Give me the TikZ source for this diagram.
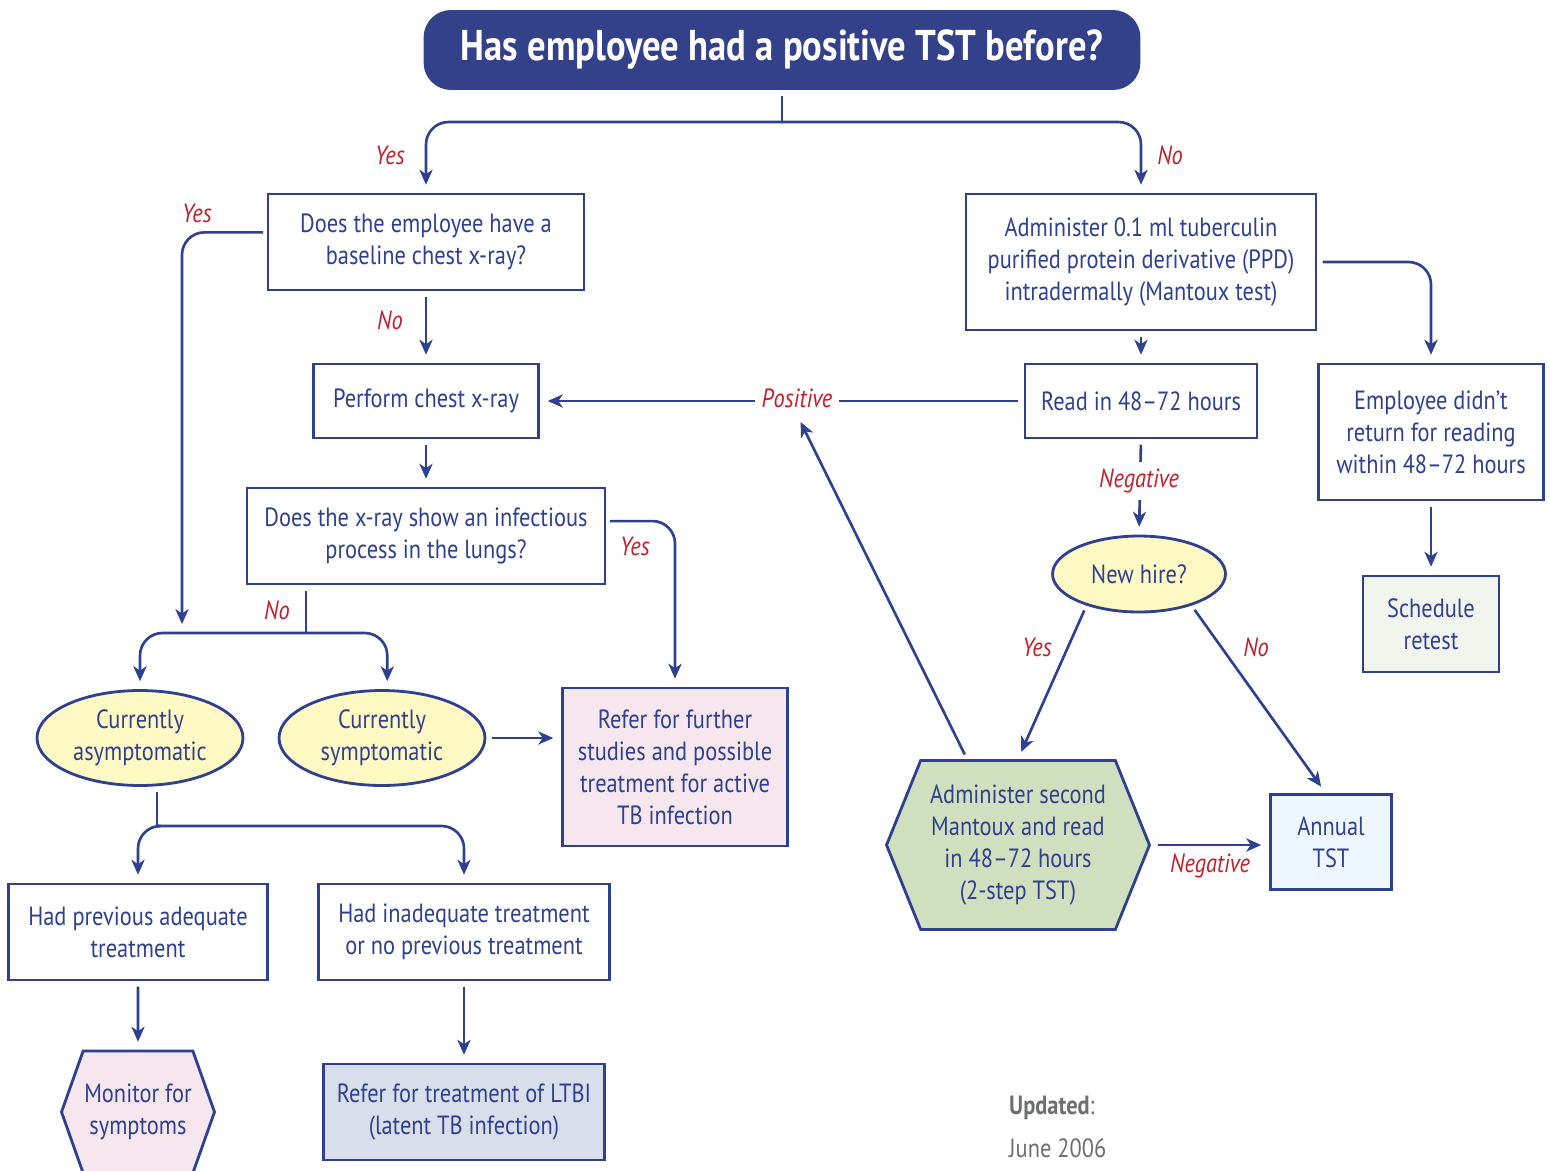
\documentclass[tikz,border=0pt]{standalone}
\usepackage{fontspec}
\setmainfont{PT Sans}[FakeStretch=0.85]
\usepackage{tikz}
\usetikzlibrary{arrows.meta}
\usetikzlibrary{shapes.geometric,shapes.symbols}

\definecolor{tbblue}{RGB}{46,64,143}
\definecolor{titleblue}{RGB}{51,65,139}
\definecolor{tbred}{RGB}{193,32,45}
\definecolor{hireyellow}{RGB}{255,249,196}
\definecolor{referpink}{RGB}{246,230,238}
\definecolor{sage}{RGB}{208,223,190}
\definecolor{retestgrey}{RGB}{242,245,238}
\definecolor{annualblue}{RGB}{238,246,254}
\definecolor{ltbilav}{RGB}{217,222,235}
\definecolor{updgrey}{RGB}{109,110,113}

\tikzset{
	box/.style={draw=tbblue, line width=1.6pt, text=tbblue, fill=white, align=center, inner sep=0pt, font=\fontsize{15}{18.2}\selectfont},
	oval/.style={box, ellipse, fill=hireyellow},
	hexa/.style={box, signal, signal from=nowhere, signal to=west and east},
	link/.style={draw=tbblue, line width=1.5pt},
	arr/.style={link, -{Stealth[length=8.5pt,width=7.5pt,inset=2.5pt]}, shorten >=4.5pt},
	lbl/.style={text=tbred, font=\fontsize{15}{18}\selectfont\itshape, inner sep=1pt},
}

\begin{document}
\begin{tikzpicture}[x=0.02cm, y=-0.02cm]
	\useasboundingbox (0,0) rectangle (1550,1170);

	\node [fill=titleblue, rounded corners=0.55cm, minimum width=14.34cm, minimum height=1.6cm, text=white, font=\fontsize{24.5}{28}\selectfont\bfseries] (ttl) at (782,50) {Has employee had a positive TST before?};

	% left branch
	\node [box, minimum width=6.32cm, minimum height=1.92cm] (xraybase) at (426,242) {Does the employee have a\\baseline chest x-ray?};
	\node [box, minimum width=4.5cm, minimum height=1.48cm] (perform) at (426,401) {Perform chest x-ray};
	\node [box, minimum width=7.16cm, minimum height=1.92cm] (infect) at (426,536) {Does the x-ray show an infectious\\process in the lungs?};
	\node [oval, minimum width=4.12cm, minimum height=1.9cm] (asym) at (140,738) {Currently\\asymptomatic};
	\node [oval, minimum width=4.12cm, minimum height=1.9cm] (sym) at (382,738) {Currently\\symptomatic};
	\node [box, fill=referpink, minimum width=4.5cm, minimum height=3.16cm] (further) at (675,767) {Refer for further\\studies and possible\\treatment for active\\TB infection};
	\node [box, minimum width=5.18cm, minimum height=1.92cm] (adequate) at (138,932) {Had previous adequate\\treatment};
	\node [box, minimum width=5.82cm, minimum height=1.92cm] (inadequate) at (464,932) {Had inadequate treatment\\or no previous treatment};
	\node [hexa, fill=referpink, signal pointer angle=141, minimum width=3.06cm, minimum height=2.44cm] (monitor) at (138,1112) {Monitor for\\symptoms};
	\node [box, fill=ltbilav, minimum width=5.62cm, minimum height=1.92cm] (ltbi) at (464,1112) {Refer for treatment of LTBI\\(latent TB infection)};

	% right branch
	\node [box, minimum width=7cm, minimum height=2.72cm] (ppd) at (1141,262) {Administer 0.1 ml tuberculin\\purified protein derivative (PPD)\\intradermally (Mantoux test)};
	\node [box, minimum width=4.64cm, minimum height=1.48cm] (read) at (1141,401) {Read in 48--72 hours};
	\node [box, minimum width=4.5cm, minimum height=2.72cm] (noreturn) at (1431,432) {Employee didn’t\\return for reading\\within 48--72 hours};
	\node [box, fill=retestgrey, minimum width=2.72cm, minimum height=1.92cm] (retest) at (1431,624) {Schedule\\retest};
	\node [oval, minimum width=3.46cm, minimum height=1.52cm] (newhire) at (1139,574) {New hire?};
	\node [hexa, fill=sage, signal pointer angle=136, minimum width=5.26cm, minimum height=3.38cm] (second) at (1018,845) {Administer second\\Mantoux and read\\in 48--72 hours\\(2-step TST)};
	\node [box, fill=annualblue, minimum width=2.42cm, minimum height=1.9cm] (annual) at (1331,842) {Annual\\TST};

	% connectors
	\coordinate (split) at (782,122);
	\draw [link, shorten <=3pt] (ttl.south) -- (split);
	\draw [arr, rounded corners=0.45cm] (split) -| (xraybase.north);
	\draw [arr, rounded corners=0.45cm] (split) -| (ppd.north);

	\coordinate (leftend) at (182,632);
	\draw [arr, shorten <=2pt, rounded corners=0.45cm] ([yshift=5.5pt]xraybase.west) -| (leftend);
	\draw [arr, shorten <=3pt] (xraybase) -- (perform);
	\draw [arr, shorten <=3pt] (perform) -- (infect);
	\draw [arr, shorten <=2pt, rounded corners=0.45cm] ([yshift=8.5pt]infect.east) -| (further.north);

	\coordinate (nosplit) at (306,633);
	\draw [link, shorten <=3pt] (infect.south -| nosplit) -- (nosplit);
	\draw [arr, rounded corners=0.45cm] (nosplit) -| (asym.north);
	\draw [arr, rounded corners=0.45cm] (nosplit) -| ([xshift=3pt]sym.north);
	\draw [arr, shorten <=3pt] (sym.east) -- (sym.east -| further.west);

	\coordinate (asplit) at (157,826);
	\draw [link, shorten <=3pt] (asym.south -| asplit) -- (asplit);
	\draw [arr, rounded corners=0.45cm] (asplit) -| (adequate.north);
	\draw [arr, rounded corners=0.45cm] (asplit) -| (inadequate.north);
	\draw [arr, shorten <=3pt] (adequate) -- (monitor);
	\draw [arr, shorten <=3pt] (inadequate) -- (ltbi);

	\draw [arr, shorten <=3pt] (ppd) -- (read);
	\draw [arr, shorten <=3pt, rounded corners=0.45cm] (ppd.east) -| (noreturn.north);
	\draw [arr, shorten <=3pt] (noreturn) -- (retest);
	\draw [arr, shorten <=3pt] (read.west) -- (perform.east);
	\draw [arr, shorten <=3pt] (read.south) -- (newhire.north);
	\draw [arr, shorten <=3pt] (newhire.211) -- (second.north);
	\draw [arr, shorten <=3pt] (newhire.329) -- ([xshift=-3pt]annual.north);
	\draw [arr, shorten <=4pt] (second.east) -- (second.east -| annual.west);

	% labels
	\node [lbl] at (390,155) {Yes};
	\node [lbl] at (1170,155) {No};
	\node [lbl] at (197,213) {Yes};
	\node [lbl] at (390,320) {No};
	\node [lbl] at (635,546) {Yes};
	\node [lbl] at (277,610) {No};
	\node [lbl, fill=white, inner sep=4pt] (positive) at (797,398) {Positive};
	\node [lbl, fill=white, inner sep=4pt] (negread) at (1139,481) {Negative};
	\node [lbl] at (1037,647) {Yes};
	\node [lbl] at (1256,647) {No};
	\node [lbl] at (1210,866) {Negative};
	\draw [arr, shorten <=3pt] ([xshift=-29pt]second.north) -- (positive.south);

	\node [anchor=west, text=updgrey, font=\fontsize{15}{18}\selectfont] (upd) at (1003,1108) {\textbf{Updated}:};
	\node [anchor=west, text=updgrey, font=\fontsize{15}{18}\selectfont] (upddate) at (1003,1148) {June 2006};

	%\draw [red] (0,0) grid[step=100] (1550,1170);
\end{tikzpicture}
\end{document}
